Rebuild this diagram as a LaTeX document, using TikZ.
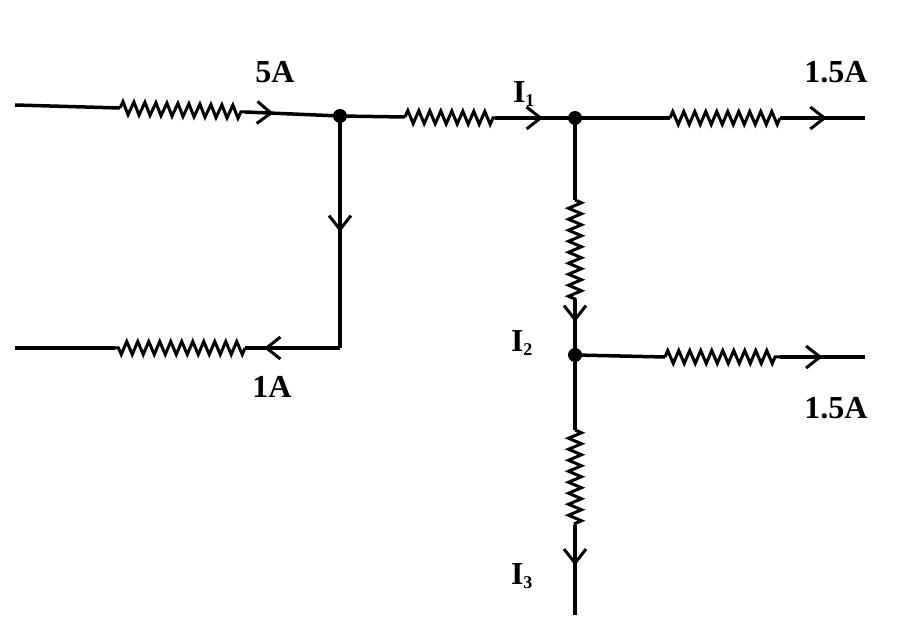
\documentclass[tikz,border=0pt]{standalone}
\usepackage{fontspec}
\setmainfont{Liberation Serif}
\usetikzlibrary{decorations.pathmorphing,decorations.markings,arrows.meta}
\begin{document}
\begin{tikzpicture}[x=1pt,y=-1pt,
 wire/.style={line width=3.5pt},
 res/.style={line width=3pt,decorate,decoration={zigzag,segment length=11pt,amplitude=6.5pt}},
 arr/.style={wire,postaction={decorate},decoration={markings,mark=at position #1 with {\arrow{Straight Barb[length=14pt,width=22pt,line width=3pt]}}}},
 dot/.style={circle,fill,inner sep=0pt,minimum size=14pt},
 lab/.style={font=\bfseries\fontsize{32}{32}\selectfont},
 sub/.style={font=\bfseries\fontsize{18}{18}\selectfont}]
\useasboundingbox (0,0) rectangle (900,628);
\coordinate (L1) at (15,105);
\node[dot] (A) at (340,116) {};
\node[dot] (B) at (575,118) {};
\node[dot] (C) at (575,355) {};
\coordinate (R1) at (865,118);
\coordinate (D1) at (340,348);
\coordinate (L2) at (15,348);
\coordinate (R2) at (865,357);
\coordinate (B3) at (575,615);
\draw[wire] (L1) -- (120,108);
\draw[res] (120,108) -- (245,112);
\draw[arr=0.3] (245,112) -- (A.center);
\draw[wire] (A.center) -- (405,117);
\draw[res] (405,117) -- (495,118);
\draw[arr=0.6] (495,118) -- (B.center);
\draw[wire] (B.center) -- (670,118);
\draw[res] (670,118) -- (780,118);
\draw[arr=0.55] (780,118) -- (R1);
\draw[arr=0.5] (A.center) -- (D1);
\draw[res] (245,348) -- (115,348);
\draw[wire] (115,348) -- (L2);
\draw[arr=0.8] (D1) -- (245,348);
\draw[wire] (B.center) -- (575,200);
\draw[res] (575,200) -- (575,300);
\draw[arr=0.4] (575,300) -- (C.center);
\draw[wire] (C.center) -- (665,357);
\draw[res] (665,357) -- (780,357);
\draw[arr=0.5] (780,357) -- (R2);
\draw[wire] (C.center) -- (575,430);
\draw[res] (575,430) -- (575,525);
\draw[arr=0.45] (575,525) -- (B3);
\node[lab] (t1) at (275,72) {5A};
\node[lab] (t2) at (524,94) {I\textsubscript{\fontsize{18}{18}\selectfont 1}};
\node[lab] (t3) at (836,72) {1.5A};
\node[lab] (t4) at (272,387) {1A};
\node[lab] (t5) at (522,343) {I\textsubscript{\fontsize{18}{18}\selectfont 2}};
\node[lab] (t6) at (836,408) {1.5A};
\node[lab] (t7) at (522,576) {I\textsubscript{\fontsize{18}{18}\selectfont 3}};
\end{tikzpicture}
\end{document}
